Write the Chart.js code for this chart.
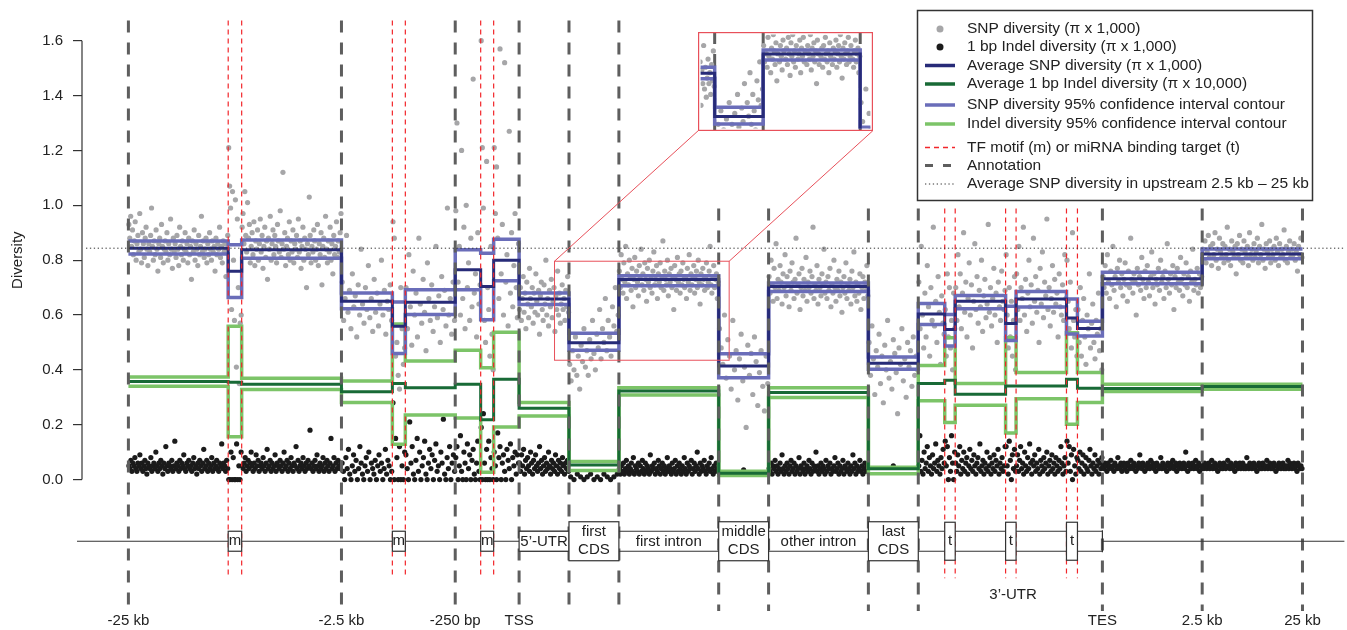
<!DOCTYPE html>
<html>
<head>
<meta charset="utf-8">
<title>SNP and indel diversity along the gene model</title>
<script src="https://cdn.jsdelivr.net/npm/chart.js@4.4.1/dist/chart.umd.min.js"></script>
<style>
  html, body { margin: 0; padding: 0; background: #fff; }
  #wrap { position: relative; width: 1347px; height: 630px; }
  #diversityChart { display: block; }
  #insetChart { position: absolute; display: block; }
</style>
</head>
<body>
<div id="wrap">
  <canvas id="diversityChart" width="1347" height="630"></canvas>
  <canvas id="insetChart"></canvas>
</div>
<script>
// layout axis: TSS = 0, one unit per short annotation block
const segEdges = [-7.83, -5.83, -5.56, -3.56, -2.54, -2.28, -1.28, -0.77, -0.51, 0, 1, 2, 4, 5, 7, 8,
                  8.53, 8.74, 9.75, 9.96, 10.97, 11.19, 11.69, 13.69, 15.7];

const snpAvg  = [0.843, 0.759, 0.838, 0.650, 0.559, 0.646, 0.765, 0.704, 0.800, 0.658, 0.499, 0.729,
                 0.414, 0.704, 0.424, 0.604, 0.547, 0.650, 0.569, 0.658, 0.589, 0.551, 0.732, 0.822];
const snpHi   = [0.870, 0.856, 0.873, 0.680, 0.647, 0.692, 0.838, 0.825, 0.876, 0.680, 0.533, 0.743,
                 0.459, 0.717, 0.447, 0.642, 0.602, 0.671, 0.632, 0.686, 0.658, 0.577, 0.756, 0.841];
const snpLo   = [0.822, 0.664, 0.807, 0.623, 0.460, 0.602, 0.692, 0.583, 0.725, 0.638, 0.471, 0.707,
                 0.371, 0.686, 0.402, 0.565, 0.487, 0.623, 0.507, 0.629, 0.531, 0.523, 0.714, 0.805];
const indelAvg = [0.357, 0.355, 0.347, 0.320, 0.350, 0.335, 0.347, 0.218, 0.366, 0.260, 0.053, 0.323,
                  0.023, 0.317, 0.039, 0.350, 0.362, 0.311, 0.341, 0.341, 0.366, 0.333, 0.332, 0.339];
const indelHi  = [0.374, 0.559, 0.369, 0.359, 0.567, 0.432, 0.471, 0.408, 0.537, 0.281, 0.066, 0.335,
                  0.030, 0.335, 0.045, 0.416, 0.517, 0.350, 0.517, 0.390, 0.535, 0.390, 0.347, 0.347];
const indelLo  = [0.340, 0.156, 0.328, 0.281, 0.129, 0.235, 0.224, 0.027, 0.192, 0.232, 0.033, 0.308,
                  0.015, 0.299, 0.021, 0.287, 0.208, 0.271, 0.170, 0.295, 0.202, 0.281, 0.321, 0.329];

// per-segment SNP diversity windows (pi x 1,000)
const snpPoints = [
  [.93,.88,.96,.85,.91,.82,.87,.94,.80,.86,.89,.83,.97,.84,.79,.90,.86,.81,.88,.92,
   .84,.78,.86,.83,.89,.99,.85,.80,.87,.82,.91,.84,.76,.86,.88,.81,.93,.85,.79,.84,
   .87,.83,.90,.80,.86,.82,.95,.84,.77,.88,.83,.86,.81,.89,.84,.78,.92,.85,.82,.87,
   .80,.84,.90,.83,.86,.79,.88,.82,.85,.73,.87,.83,.91,.80,.86,.84,.78,.89,.82,.85,
   .96,.83,.87,.81,.84,.88,.79,.86,.82,.90,.84,.80,.87,.83,.85,.76,.88,.82,.86,.84,
   .92,.81,.85,.79,.87,.83,.86,.74,.84,.89],
  [1.21,1.07,.99,.62,1.05,.80,.58,1.02,.41,.95,.70,.35,.57,.60],
  [.92,.97,.86,1.05,.89,.83,1.01,.88,.93,.79,.85,.90,.82,.94,.78,.87,.84,.91,.80,.86,
   .95,.83,.89,.77,.85,.92,.81,.87,.73,.88,.84,.96,.80,.86,.91,.82,.89,.85,.79,.93,
   .87,.83,.98,.81,.86,1.12,.84,.90,.78,.85,.88,.82,.94,.80,.87,.83,.91,.79,.86,.84,
   .89,.81,.95,.83,.87,.77,.85,.92,.80,.88,.84,.70,.86,.82,1.03,.89,.79,.85,.83,.91,
   .87,.80,.84,.93,.78,.86,.82,.90,.71,.85,.88,.81,.96,.84,.79,.87,.83,.92,.80,.86,
   .75,.89,.82,.85,.94,.81,.87,.83,.90,.97],
  [.72,.58,.66,.89,.61,.69,.55,.75,.63,.67,.52,.71,.60,.84,.64,.57,.70,.62,.78,.59,
   .66,.54,.73,.61,.68,.56,.64,.80,.60,.69,.53,.65,.62,.71,.58],
  [.94,.88,.45,.50,.38,.33,.70,.55,.42,.48],
  [.70,.55,.82,.63,.49,.76,.60,.68,.52,.88,.64,.57,.73,.61,.47,.79,.66,.58,.71,.54,
   .63,.85,.59,.67,.50,.74,.62,.69,.56,.99,.60,.66,.53,.72,.58],
  [.98,1.30,.72,.85,.60,1.20,.66,.92,.55,1.00,.70,.79,.58,.88,.63,1.46,.68,.75,.52,.90,.64,.71],
  [1.60,1.21,.99,.58,.50,1.16,.70,.62,.45,.85,.53,.40],
  [1.21,.97,1.14,.88,.66,1.57,.75,.93,.60,1.52,.72,.82,.56,1.27,.68,.90,.63,.78,.97,.70,.59,.86],
  [.62,.70,.58,.66,.74,.61,.68,.55,.72,.64,.59,.77,.66,.63,.70,.57,.68,.61,.75,.65,
   .60,.69,.53,.67,.72,.62,.58,.71,.64,.80,.60,.66,.56,.69,.63,.73,.59,.65,.70,.54,
   .67,.62,.76,.60,.68,.57,.64,.71,.62,.66,.58,.69,.63,.74,.61],
  [.42,.36,.47,.40,.52,.38,.45,.33,.49,.43,.55,.41,.47,.38,.51,.44,.58,.46,.40,.53,
   .48,.62,.44,.55,.50,.66,.47,.58,.52,.45,.63,.56,.70,.54,.60],
  [.76,.70,.82,.73,.68,.79,.72,.85,.66,.75,.71,.80,.74,.69,.77,.63,.73,.81,.70,.76,
   .72,.67,.78,.74,.84,.71,.75,.69,.79,.73,.65,.77,.72,.80,.70,.74,.68,.76,.83,.71,
   .73,.78,.66,.75,.72,.79,.70,.74,.87,.69,.76,.73,.71,.80,.67,.75,.72,.77,.70,.74,
   .62,.78,.73,.69,.81,.72,.75,.68,.76,.71,.79,.73,.70,.74,.66,.77,.72,.82,.69,.75,
   .71,.74,.78,.68,.73,.76,.70,.80,.72,.64,.75,.71,.77,.73,.69,.74,.79,.70,.72,.76,
   .85,.71,.68,.74,.78,.70,.73,.75,.66,.72],
  [.55,.48,.42,.60,.37,.51,.45,.33,.58,.40,.47,.29,.44,.53,.36,.41,.19,.49,.38,.46,
   .31,.52,.43,.27,.39,.47,.34,.25,.45,.35],
  [.74,.68,.80,.71,.65,.77,.70,.86,.66,.73,.69,.78,.72,.64,.75,.70,.82,.67,.74,.71,
   .63,.76,.69,.79,.72,.66,.73,.88,.68,.71,.75,.62,.70,.77,.67,.73,.69,.81,.65,.72,
   .70,.76,.68,.74,.92,.66,.71,.69,.78,.64,.73,.70,.67,.75,.71,.84,.68,.72,.66,.74,
   .69,.77,.63,.71,.68,.80,.70,.65,.73,.69,.76,.67,.72,.61,.70,.74,.68,.79,.66,.71,
   .69,.73,.64,.76,.70,.83,.67,.72,.65,.71,.68,.75,.62,.70,.74,.66,.72,.69,.78,.67],
  [.50,.38,.56,.44,.31,.47,.41,.53,.35,.45,.28,.49,.40,.58,.37,.43,.33,.51,.46,.39,
   .24,.48,.42,.55,.36,.44,.30,.50,.41,.47,.34,.52,.38,.45,.40],
  [.72,.55,.85,.60,.48,.68,.52,.78,.63,.45,.70,.58,.92,.56,.65,.50,.74,.61,.42,.67,.57,.53],
  [.62,.45,.75,.52,.70,.48,.58,.40,.68,.55],
  [.70,.58,.82,.63,.75,.55,.68,.90,.61,.72,.52,.66,.79,.60,.71,.48,.65,.86,.62,.74,
   .57,.69,.63,.80,.54,.67,.73,.59,.64,.93,.61,.70,.56,.66,.77,.60,.68,.50,.72,.63,
   .58,.76,.65,.62,.69],
  [.82,.60,.48,.70,.52,.65,.45,.58,.74,.40],
  [.75,.62,.85,.58,.70,.66,.92,.60,.73,.54,.68,.80,.63,.71,.57,.88,.65,.74,.61,.69,
   .50,.77,.64,.83,.59,.72,.67,.95,.62,.70,.56,.66,.78,.61,.73,.64,.68,.52,.75,.63,
   .60,.71,.58,.82,.66],
  [.80,.65,.55,.72,.48,.90,.58,.52,.62,.45],
  [.62,.50,.70,.45,.58,.66,.52,.42,.60,.55,.75,.48,.57,.64,.50,.44,.58,.53,.68,.47,.55,.40],
  [.74,.70,.78,.68,.82,.72,.66,.76,.71,.85,.69,.74,.63,.77,.72,.80,.70,.75,.67,.73,
   .79,.71,.65,.76,.70,.88,.73,.68,.75,.72,.60,.77,.71,.74,.69,.81,.73,.66,.76,.70,
   .78,.72,.67,.74,.83,.70,.75,.64,.73,.71,.77,.69,.80,.72,.74,.66,.76,.70,.86,.73,
   .68,.75,.71,.78,.62,.74,.70,.77,.72,.69,.81,.73,.67,.75,.71,.79,.70,.74,.65,.76,
   .72,.84,.69,.73,.71,.77,.68,.75,.70,.74],
  [.84,.80,.87,.79,.83,.89,.81,.85,.78,.86,.82,.90,.80,.84,.77,.88,.83,.81,.86,.79,
   .85,.82,.92,.80,.84,.78,.87,.83,.81,.85,.75,.86,.82,.89,.80,.84,.79,.87,.83,.81,
   .85,.78,.90,.82,.84,.80,.86,.81,.83,.88,.79,.85,.82,.93,.80,.84,.77,.86,.83,.81,
   .87,.79,.84,.82,.85,.80,.88,.83,.78,.86,.81,.84,.82,.91,.80,.85,.79,.83,.87,.81,
   .84,.82,.86,.80,.83,.76,.85,.82,.88,.81]
];

// per-segment 1 bp indel diversity windows (pi x 1,000)
const indelPoints = [
  [.05,.04,.07,.03,.06,.05,.08,.04,.03,.06,.05,.09,.04,.06,.03,.05,.07,.04,.02,.06,
   .05,.04,.08,.03,.05,.06,.04,.10,.05,.03,.06,.04,.07,.05,.02,.06,.04,.12,.05,.03,
   .06,.05,.04,.07,.03,.05,.14,.04,.06,.05,.03,.07,.04,.06,.05,.09,.04,.03,.06,.05,
   .07,.04,.05,.03,.06,.08,.04,.05,.02,.06,.04,.07,.05,.03,.06,.11,.04,.05,.07,.03,
   .06,.04,.05,.08,.03,.06,.04,.05,.07,.04,.03,.06,.05,.13,.04,.06,.05,.03,.07,.04],
  [0,0,.10,0,.08,0,0,.13,0,.05,0,.10],
  [.05,.04,.06,.08,.03,.05,.07,.04,.06,.10,.05,.03,.06,.04,.09,.05,.07,.03,.05,.06,
   .04,.08,.05,.03,.06,.11,.04,.05,.07,.03,.06,.04,.05,.09,.03,.06,.05,.04,.07,.05,
   .03,.06,.10,.04,.05,.07,.03,.06,.04,.08,.05,.03,.06,.05,.12,.04,.07,.03,.05,.06,
   .04,.08,.05,.03,.06,.04,.07,.05,.18,.04,.06,.03,.05,.07,.04,.09,.05,.03,.06,.04,
   .05,.08,.03,.06,.04,.07,.05,.03,.06,.15,.04,.05,.08,.03,.06,.04,.07,.05,.04,.06],
  [.06,.03,0,.08,.04,.11,.02,0,.05,.09,.03,.07,0,.04,.12,.06,.02,0,.05,.08,
   .03,.10,0,.06,.04,.02,.07,0,.05,.09,.03,.06,0,.04,.11,.02,.07,.05,0,.03],
  [.28,0,.15,.08,0,.12,0,.05,0,.10],
  [.09,.04,0,.21,.06,.12,.02,0,.07,.15,.03,.10,0,.05,.08,.14,.02,0,.06,.11,
   .04,.09,0,.07,.13,.03,.05,0,.10,.06,.22,.02,0,.08,.04,.12,0,.06,.09,.03],
  [.08,.12,0,.05,.16,.03,0,.10,.06,0,.13,.04,.09,0,.07,.11,.02,0,.06,.14,.03,0],
  [.19,0,.24,.06,0,.11,0,.14,0,.08,.04,0],
  [.10,.05,0,.17,.08,.12,0,.06,.09,.03,0,.11,.07,.04,.13,0,.08,.05,.10,.02,.09,.06],
  [.06,.03,.09,.05,.11,.02,.07,.04,.08,.05,.03,.10,.06,.02,.07,.04,.09,.05,.03,.06,
   .12,.04,.07,.02,.05,.08,.03,.06,.04,.10,.05,.02,.07,.04,.06,.03,.09,.05,.02,.07,
   .04,.06,.03,.08,.05,.02,.06,.04,.07,.03],
  [.01,0,.02,.01,0,.01,.02,0,.01,0,.02,.01,0,.01,.02],
  [.04,.02,.05,.03,.06,.02,.04,.07,.03,.05,.02,.04,.06,.03,.08,.02,.05,.04,.03,.06,
   .02,.05,.03,.07,.04,.02,.06,.03,.05,.04,.02,.09,.03,.05,.04,.06,.02,.04,.03,.07,
   .05,.02,.04,.06,.03,.05,.02,.04,.08,.03,.05,.04,.02,.06,.03,.04,.07,.02,.05,.03,
   .06,.04,.02,.05,.03,.08,.04,.02,.06,.03,.05,.04,.07,.02,.04,.06,.03,.05,.10,.04,
   .02,.06,.03,.05,.04,.07,.03,.02,.05,.04,.06,.03,.08,.04,.02,.05,.03,.06,.04,.03],
  [.035],
  [.04,.03,.06,.02,.05,.04,.07,.03,.05,.02,.04,.06,.03,.09,.04,.02,.05,.03,.06,.04,
   .02,.05,.07,.03,.04,.06,.02,.05,.03,.04,.08,.02,.05,.04,.03,.06,.02,.04,.05,.03,
   .07,.04,.02,.06,.03,.05,.04,.10,.03,.05,.02,.04,.06,.03,.05,.04,.02,.07,.03,.05,
   .04,.06,.02,.04,.03,.05,.08,.03,.04,.06,.02,.05,.03,.04,.07,.02,.05,.04,.03,.06,
   .04,.02,.05,.03,.09,.04,.06,.02,.05,.03,.04,.07,.03,.05,.02,.04,.06,.03,.05,.04],
  [.05],
  [.05,.16,.03,.07,.02,.10,.04,.06,.12,.03,.08,.05,.02,.09,.04,.06,.13,.03,.07,.05,.02,.08,.04,.11,.06],
  [.14,.05,.12,0,.08,.03,.16,.06,0,.10],
  [.06,.03,.09,.05,.12,.02,.07,.04,.10,.03,.06,.08,.02,.05,.11,.04,.07,.03,.09,.05,
   .02,.06,.08,.04,.13,.03,.05,.07,.02,.06,.04,.10,.03,.05,.08,.02,.06,.04,.09,.03,
   .07,.05,.11,.02,.06,.04,.08,.03,.05,.12],
  [.12,.05,.02,.14,.07,0,.09,.04,.11,.03],
  [.05,.09,.03,.07,.12,.04,.06,.02,.10,.05,.03,.08,.04,.13,.06,.02,.07,.05,.09,.03,
   .06,.04,.11,.02,.07,.05,.03,.08,.04,.06,.10,.02,.05,.07,.03,.09,.04,.06,.02,.08,
   .05,.03,.07,.04,.12,.06,.02,.05,.08,.03],
  [.14,.06,.12,.03,.09,0,.11,.05,.02,.08],
  [.07,.04,.10,.03,.06,.09,.02,.05,.08,.04,.03,.07,.11,.05,.02,.06,.04,.09,.03,.05,.07,.02,.06,.04,.08],
  [.05,.04,.06,.05,.03,.06,.04,.05,.07,.04,.05,.03,.06,.05,.04,.08,.05,.04,.06,.03,
   .05,.06,.04,.05,.03,.06,.05,.04,.07,.05,.04,.06,.05,.03,.05,.04,.06,.09,.05,.04,
   .06,.05,.03,.05,.04,.06,.05,.04,.07,.05,.06,.04,.05,.03,.06,.05,.04,.05,.08,.04,
   .06,.05,.04,.05,.03,.06,.05,.04,.06,.05,.07,.04,.05,.06,.03,.05,.04,.06,.05,.04,
   .05,.06,.04,.10,.05,.03,.06,.05,.04,.05,.06,.04,.05,.07,.04,.05,.06,.03,.05,.04],
  [.05,.04,.06,.05,.04,.05,.06,.04,.05,.07,.04,.05,.06,.04,.05,.03,.05,.06,.04,.05,
   .04,.06,.05,.04,.05,.07,.05,.04,.06,.05,.04,.05,.03,.06,.05,.04,.05,.06,.04,.05,
   .06,.04,.05,.04,.08,.05,.04,.06,.05,.04,.05,.06,.04,.05,.03,.05,.06,.04,.05,.04,
   .06,.05,.04,.05,.07,.04,.05,.06,.04,.05,.04,.06,.05,.03,.05,.04,.06,.05,.04,.05,
   .06,.04,.05,.04,.05,.07,.04,.06,.05,.04,.05,.06,.04,.05,.03,.06,.05,.04,.05,.04]
];

const annotationX = [-7.83, -3.56, -1.28, 0, 1, 2, 4, 5, 7, 8, 11.69, 13.69, 15.7];
const motifs  = [[-5.83, -5.56], [-2.54, -2.28], [-0.77, -0.51]];
const targets = [[8.53, 8.74], [9.75, 9.96], [10.97, 11.19]];
const cdsBlocks = [[1, 2, 'first'], [4, 5, 'middle'], [7, 8, 'last']];
const intronLabels = [[3, 'first intron'], [6, 'other intron']];
const utr5 = [0, 1];
const utr3 = [8, 11.69];
const xTickPos = [-7.83, -3.56, -1.28, 0, 11.69, 13.69, 15.7];
const xTickLabels = ['-25 kb', '-2.5 kb', '-250 bp', 'TSS', 'TES', '2.5 kb', '25 kb'];
const yTicks = [0, 0.2, 0.4, 0.6, 0.8, 1.0, 1.2, 1.4, 1.6];
const upstreamAvg = 0.8435;

// zoomed window: source region and where its magnified copy sits
const zoomSrc = { x0: 0.71, x1: 4.21, y0: 0.435, y1: 0.796 };
const zoomDst = { x0: 3.59, x1: 7.09, y0: 1.272, y1: 1.633 };
const insetY = [0.455, 0.80];

const FONT = '"Liberation Sans", Arial, Helvetica, sans-serif';
const colors = {
  snpDot: '#a6a6a8', indelDot: '#1b1b1b',
  snpAvg: '#272b78', snpCI: '#6a6db9',
  indelAvg: '#186a36', indelCI: '#7cc468',
  annotation: '#5e5e5e', motif: '#f2262b', zoom: '#e8505a', ink: '#222'
};

const legendItems = [
  ['dot', colors.snpDot, 'SNP diversity (π x 1,000)'],
  ['dot', colors.indelDot, '1 bp Indel diversity (π x 1,000)'],
  ['line', colors.snpAvg, 'Average SNP diversity (π x 1,000)'],
  ['line', colors.indelAvg, 'Average 1 bp Indel diversity (π x 10,000)'],
  ['line', colors.snpCI, 'SNP diversity 95% confidence interval contour'],
  ['line', colors.indelCI, 'Indel diversity 95% confidence interval contour'],
  ['red', colors.motif, 'TF motif (m) or miRNA binding target (t)'],
  ['anno', colors.annotation, 'Annotation'],
  ['dots', '#333', 'Average SNP diversity in upstream 2.5 kb \u2013 25 kb']
];

function stepLine(values) {
  const pts = [];
  values.forEach((v, i) => { pts.push({ x: segEdges[i], y: v }, { x: segEdges[i + 1], y: v }); });
  return pts;
}

function spread(groups) {
  const pts = [];
  groups.forEach((vals, i) => {
    const a = segEdges[i], w = (segEdges[i + 1] - a) / vals.length;
    vals.forEach((v, j) => pts.push({ x: a + (j + 0.5) * w, y: v }));
  });
  return pts;
}

function buildDatasets() {
  const dots = (data, color, order) => ({
    data, backgroundColor: color, borderWidth: 0, pointRadius: 2.6, pointHoverRadius: 0, order
  });
  const step = (data, color, width, order) => ({
    data, showLine: true, borderColor: color, borderWidth: width, pointRadius: 0,
    borderJoinStyle: 'miter', borderCapStyle: 'butt', fill: false, order
  });
  return [
    dots(spread(snpPoints), colors.snpDot, 8),
    dots(spread(indelPoints), colors.indelDot, 7),
    step(stepLine(indelHi), colors.indelCI, 3.5, 6),
    step(stepLine(indelLo), colors.indelCI, 3.5, 5),
    step(stepLine(indelAvg), colors.indelAvg, 3, 4),
    step(stepLine(snpHi), colors.snpCI, 3.5, 3),
    step(stepLine(snpLo), colors.snpCI, 3.5, 2),
    step(stepLine(snpAvg), colors.snpAvg, 3, 1)
  ];
}

function seg(ctx, x0, y0, x1, y1) {
  ctx.beginPath(); ctx.moveTo(x0, y0); ctx.lineTo(x1, y1); ctx.stroke();
}

const whiteBg = {
  id: 'whiteBg',
  beforeDraw(chart) {
    const ctx = chart.ctx;
    ctx.save(); ctx.fillStyle = '#fff'; ctx.fillRect(0, 0, chart.width, chart.height); ctx.restore();
  }
};

const geneAnnotations = {
  id: 'geneAnnotations',
  afterDatasetsDraw(chart) {
    const { ctx, chartArea } = chart;
    const X = v => chart.scales.x.getPixelForValue(v);
    const Y = v => chart.scales.y.getPixelForValue(v);
    ctx.save();

    // annotation boundaries
    ctx.strokeStyle = colors.annotation; ctx.lineWidth = 3; ctx.setLineDash([12, 10]);
    annotationX.forEach(a => {
      const top = a > zoomDst.x0 ? 0.988 : 1.674;
      seg(ctx, X(a), Y(top), X(a), chartArea.bottom - 1);
    });

    // TF motifs and miRNA targets
    ctx.strokeStyle = colors.motif; ctx.lineWidth = 1.2; ctx.setLineDash([5, 4]);
    motifs.concat(targets).forEach((pair, k) => {
      const top = k < motifs.length ? 1.674 : 0.988;
      pair.forEach(a => seg(ctx, X(a), Y(top), X(a), Y(-0.36)));
    });

    // upstream average
    ctx.strokeStyle = '#333'; ctx.lineWidth = 1; ctx.setLineDash([1.3, 2.6]);
    seg(ctx, chartArea.left + 4, Y(upstreamAvg), chartArea.right, Y(upstreamAvg));

    // y axis line between 0 and 1.6
    ctx.setLineDash([]); ctx.strokeStyle = '#333'; ctx.lineWidth = 1.2;
    seg(ctx, chartArea.left, Y(0), chartArea.left, Y(1.6));

    ctx.fillStyle = colors.ink;
    ctx.font = '15px ' + FONT;
    ctx.textBaseline = 'middle';
    ctx.save();
    ctx.translate(18, Y(0.8)); ctx.rotate(-Math.PI / 2);
    ctx.textAlign = 'center'; ctx.fillText('Diversity', 0, 0);
    ctx.restore();

    // gene model
    const gy = Y(-0.225);
    ctx.strokeStyle = '#333'; ctx.lineWidth = 1.2;
    seg(ctx, X(-8.86), gy, X(utr5[0]), gy);
    seg(ctx, X(utr3[1]), gy, chartArea.right, gy);
    seg(ctx, X(utr5[0]), gy - 10, X(utr3[1]), gy - 10);
    seg(ctx, X(utr5[0]), gy + 10, X(utr3[1]), gy + 10);
    seg(ctx, X(utr3[1]), gy - 11, X(utr3[1]), gy + 11);
    const box = (a, b, half) => {
      ctx.fillStyle = '#fff';
      ctx.fillRect(X(a), gy - half, X(b) - X(a), half * 2);
      ctx.strokeRect(X(a), gy - half, X(b) - X(a), half * 2);
    };
    box(utr5[0], utr5[1], 10);
    cdsBlocks.forEach(c => box(c[0], c[1], 19.5));
    motifs.forEach(m => box(m[0], m[1], 10));
    targets.forEach(t => box(t[0], t[1], 19));

    ctx.fillStyle = colors.ink; ctx.textAlign = 'center';
    ctx.fillText('5\u2019-UTR', X((utr5[0] + utr5[1]) / 2), gy + 1);
    cdsBlocks.forEach(c => {
      const cx = X((c[0] + c[1]) / 2);
      ctx.fillText(c[2], cx, gy - 9);
      ctx.fillText('CDS', cx, gy + 9);
    });
    intronLabels.forEach(l => ctx.fillText(l[1], X(l[0]), gy + 1));
    motifs.forEach(m => ctx.fillText('m', X((m[0] + m[1]) / 2), gy));
    targets.forEach(t => ctx.fillText('t', X((t[0] + t[1]) / 2), gy));
    ctx.fillText('3\u2019-UTR', X(9.9), gy + 54);

    // zoom source box and guides
    ctx.strokeStyle = colors.zoom; ctx.lineWidth = 1;
    ctx.strokeRect(X(zoomSrc.x0), Y(zoomSrc.y1), X(zoomSrc.x1) - X(zoomSrc.x0), Y(zoomSrc.y0) - Y(zoomSrc.y1));
    seg(ctx, X(zoomDst.x0), Y(zoomDst.y0), X(zoomSrc.x0), Y(zoomSrc.y1));
    seg(ctx, X(zoomDst.x1), Y(zoomDst.y0), X(zoomSrc.x1), Y(zoomSrc.y1));

    // legend
    ctx.fillStyle = '#fff'; ctx.fillRect(917, 10, 395, 190);
    ctx.strokeStyle = '#333'; ctx.lineWidth = 1.5; ctx.strokeRect(917.5, 10.5, 395, 190);
    ctx.font = '15.5px ' + FONT;
    const rowsY = [29, 47, 65.5, 84, 105, 124, 147.5, 165.5, 184];
    legendItems.forEach((it, i) => {
      const y = rowsY[i];
      ctx.setLineDash([]);
      if (it[0] === 'dot') {
        ctx.fillStyle = it[1]; ctx.beginPath(); ctx.arc(940, y, 3.5, 0, Math.PI * 2); ctx.fill();
      } else if (it[0] === 'line') {
        ctx.strokeStyle = it[1]; ctx.lineWidth = 3.5; seg(ctx, 925, y, 955, y);
      } else if (it[0] === 'red') {
        ctx.strokeStyle = it[1]; ctx.lineWidth = 1.5; ctx.setLineDash([5, 4]); seg(ctx, 925, y, 955, y);
      } else if (it[0] === 'anno') {
        ctx.strokeStyle = it[1]; ctx.lineWidth = 3; ctx.setLineDash([8, 10]); seg(ctx, 925, y, 955, y);
      } else {
        ctx.strokeStyle = it[1]; ctx.lineWidth = 1; ctx.setLineDash([1.3, 2.6]); seg(ctx, 925, y, 955, y);
      }
      ctx.fillStyle = colors.ink; ctx.textAlign = 'left';
      ctx.fillText(it[2], 967, y);
    });
    ctx.restore();
  }
};

const chart = new Chart(document.getElementById('diversityChart'), {
  type: 'scatter',
  data: { datasets: buildDatasets() },
  options: {
    responsive: false, animation: false, devicePixelRatio: 1, events: [],
    layout: { padding: 0 },
    plugins: { legend: { display: false }, tooltip: { enabled: false } },
    scales: {
      x: {
        type: 'linear', min: -8.76, max: 16.54,
        afterBuildTicks: s => { s.ticks = xTickPos.map(v => ({ value: v })); },
        afterFit: s => { s.height = 18; s.paddingLeft = 0; s.paddingRight = 0; },
        grid: { display: false, drawTicks: false }, border: { display: false },
        ticks: {
          autoSkip: false, maxRotation: 0, padding: 0, color: colors.ink,
          font: { family: FONT, size: 15 },
          callback: v => xTickLabels[xTickPos.indexOf(v)]
        }
      },
      y: {
        type: 'linear', min: -0.483, max: 1.739,
        afterBuildTicks: s => { s.ticks = yTicks.map(v => ({ value: v })); },
        afterFit: s => { s.width = 82; s.paddingTop = 0; s.paddingBottom = 0; },
        grid: { drawOnChartArea: false, drawTicks: true, tickLength: 9, color: '#333', lineWidth: 1.2 },
        border: { display: false },
        ticks: { padding: 10, color: colors.ink, font: { family: FONT, size: 15 }, callback: v => v.toFixed(1) }
      }
    }
  },
  plugins: [whiteBg, geneAnnotations]
});

// magnified inset, placed through the main chart's scales
const xs = chart.scales.x, ys = chart.scales.y;
const insetCanvas = document.getElementById('insetChart');
const iLeft = xs.getPixelForValue(zoomDst.x0), iRight = xs.getPixelForValue(zoomDst.x1);
const iTop = ys.getPixelForValue(zoomDst.y1), iBottom = ys.getPixelForValue(zoomDst.y0);
const iw = Math.round(iRight - iLeft), ih = Math.round(iBottom - iTop);
insetCanvas.width = iw; insetCanvas.height = ih;
insetCanvas.style.left = Math.round(iLeft) + 'px';
insetCanvas.style.top = Math.round(iTop) + 'px';
insetCanvas.style.width = iw + 'px';
insetCanvas.style.height = ih + 'px';

const insetFrame = {
  id: 'insetFrame',
  beforeDatasetsDraw(c) {
    const ctx = c.ctx;
    ctx.save();
    ctx.strokeStyle = colors.annotation; ctx.lineWidth = 3; ctx.setLineDash([12, 10]);
    annotationX.filter(a => a > zoomSrc.x0 && a < zoomSrc.x1).forEach(a => {
      const x = c.scales.x.getPixelForValue(a);
      seg(ctx, x, 0, x, c.height);
    });
    ctx.restore();
  },
  afterDraw(c) {
    const ctx = c.ctx;
    ctx.save();
    ctx.strokeStyle = colors.zoom; ctx.lineWidth = 1.2;
    ctx.strokeRect(0.6, 0.6, c.width - 1.2, c.height - 1.2);
    ctx.restore();
  }
};

new Chart(insetCanvas, {
  type: 'scatter',
  data: { datasets: buildDatasets() },
  options: {
    responsive: false, animation: false, devicePixelRatio: 1, events: [],
    layout: { padding: 0 },
    plugins: { legend: { display: false }, tooltip: { enabled: false } },
    scales: {
      x: { type: 'linear', display: false, min: zoomSrc.x0, max: zoomSrc.x1 },
      y: { type: 'linear', display: false, min: insetY[0], max: insetY[1] }
    }
  },
  plugins: [whiteBg, insetFrame]
});
</script>
</body>
</html>
